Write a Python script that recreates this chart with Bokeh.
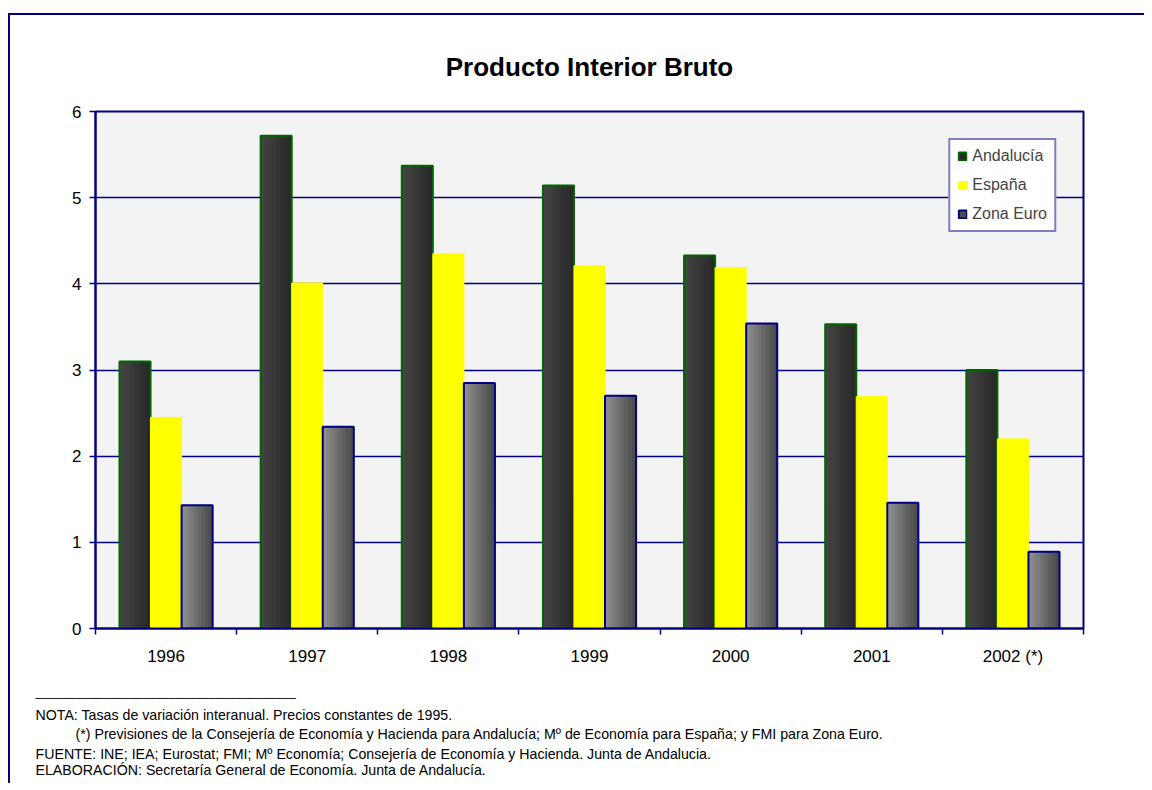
from bokeh.plotting import figure
from bokeh.models import (ColumnDataSource, Range1d, FixedTicker, Title, Legend, LegendItem)
from bokeh.transform import dodge
from bokeh.embed import file_html
from bokeh.resources import INLINE

years = ["1996", "1997", "1998", "1999", "2000", "2001", "2002 (*)"]
andalucia = [3.10, 5.72, 5.37, 5.14, 4.33, 3.53, 3.00]
espana = [2.45, 4.01, 4.35, 4.21, 4.19, 2.69, 2.20]
zona_euro = [1.43, 2.34, 2.85, 2.70, 3.54, 1.46, 0.89]

NAVY = "#000080"
FONT = "Liberation Sans"

idx = list(range(len(years)))
src = ColumnDataSource(dict(i=idx, year=years, a=andalucia, e=espana, z=zona_euro))

p = figure(width=1136, height=770, x_range=Range1d(-0.5, len(years) - 0.5),
           y_range=Range1d(0, 6), output_backend="svg", toolbar_location=None,
           min_border_left=85, min_border_right=63,
           min_border_top=96, min_border_bottom=157)
p.styles = {"border-left": f"2px solid {NAVY}", "border-top": f"2px solid {NAVY}",
            "margin-top": "13px", "margin-left": "8px"}

p.title.text = "Producto Interior Bruto"
p.title.text_font = FONT
p.title.text_font_size = "26px"
p.title.text_font_style = "bold"
p.title.align = "center"
p.title.standoff = 59
p.title.text_color = "black"

p.background_fill_color = "#f3f3f3"
p.border_fill_color = "white"
p.outline_line_color = NAVY
p.outline_line_width = 2

p.xgrid.visible = False
p.ygrid.grid_line_color = NAVY
p.ygrid.grid_line_width = 1.5
p.ygrid.ticker = FixedTicker(ticks=[0, 1, 2, 3, 4, 5, 6])

ya = p.yaxis[0]
ya.ticker = FixedTicker(ticks=[0, 1, 2, 3, 4, 5, 6])
ya.axis_line_color = NAVY
ya.axis_line_width = 2
ya.major_tick_line_color = NAVY
ya.major_tick_line_width = 1.5
ya.major_tick_out = 6
ya.major_tick_in = 0
ya.minor_tick_line_color = None
ya.major_label_text_font = FONT
ya.major_label_text_font_size = "17px"
ya.major_label_text_color = "black"
ya.major_label_standoff = 8

# x axis: labels at category centres, small ticks at the category boundaries
xa = p.xaxis[0]
xa.ticker = FixedTicker(ticks=idx, minor_ticks=[k - 0.5 for k in range(len(years) + 1)])
xa.major_label_overrides = {k: y for k, y in zip(idx, years)}
xa.axis_line_color = NAVY
xa.axis_line_width = 2
xa.major_tick_line_color = None
xa.major_tick_out = 0
xa.major_tick_in = 0
xa.minor_tick_line_color = NAVY
xa.minor_tick_line_width = 1.5
xa.minor_tick_out = 6
xa.minor_tick_in = 0
xa.major_label_text_font = FONT
xa.major_label_text_font_size = "17px"
xa.major_label_text_color = "black"
xa.major_label_standoff = 12

w = 0.22


def hexmix(c1, c2, t):
    a = [int(c1[i:i + 2], 16) for i in (1, 3, 5)]
    b = [int(c2[i:i + 2], 16) for i in (1, 3, 5)]
    return "#" + "".join(f"{round(x + (y - x) * t):02x}" for x, y in zip(a, b))


def shaded_bars(col, off, light, dark, edge, n=8):
    """Bar series with a left-to-right shading (light -> dark) and an outline."""
    base = p.vbar(x=dodge("i", off), top=col, width=w, source=src,
                  fill_color=dark, line_color=None)
    for k in range(1, n):
        frac = 1 - k / n
        p.vbar(x=dodge("i", off - w / 2 + w * frac / 2), top=col, width=w * frac,
               source=src, fill_color=hexmix(dark, light, k / (n - 1)), line_color=None)
    outline = p.vbar(x=dodge("i", off), top=col, width=w, source=src,
                     fill_alpha=0, line_color=edge, line_width=2)
    return [base, outline]


ra = shaded_bars("a", -w, "#434343", "#292929", "#006400")
re_ = [p.vbar(x=dodge("i", 0), top="e", width=w, source=src,
              fill_color="#ffff00", line_color="#ffff00", line_width=1)]
rz = shaded_bars("z", w, "#8c8c8c", "#4c4c4c", NAVY)

legend = Legend(items=[LegendItem(label="Andalucía", renderers=ra),
                       LegendItem(label="España", renderers=re_),
                       LegendItem(label="Zona Euro", renderers=rz)],
                location="top_right", margin=27, padding=7, spacing=11,
                glyph_width=10, glyph_height=10, label_height=18, label_standoff=5,
                label_text_font=FONT, label_text_font_size="16px",
                border_line_color=NAVY, border_line_width=2,
                background_fill_color="white", background_fill_alpha=1)
p.add_layout(legend)

notes = [
    ("_______________________________________", -60, 29, "12px"),
    ("NOTA: Tasas de variación interanual. Precios constantes de 1995.", -60, -17, "14.2px"),
    ("(*) Previsiones de la Consejería de Economía y Hacienda para Andalucía; Mº de Economía para España; y FMI para Zona Euro.", -20, 19, "14.2px"),
    ("FUENTE: INE; IEA; Eurostat; FMI; Mº Economía; Consejería de Economía y Hacienda. Junta de Andalucia.", -60, -15, "14.2px"),
    ("ELABORACIÓN: Secretaría General de Economía. Junta de Andalucía.", -60, 11, "14.2px"),
]
for txt, off, so, fs in notes:
    p.add_layout(Title(text=txt, align="left", offset=off, standoff=so, text_font=FONT,
                       text_font_size=fs, text_font_style="normal", text_color="black"),
                 "below")

open("out.html", "w").write(file_html(p, INLINE))
